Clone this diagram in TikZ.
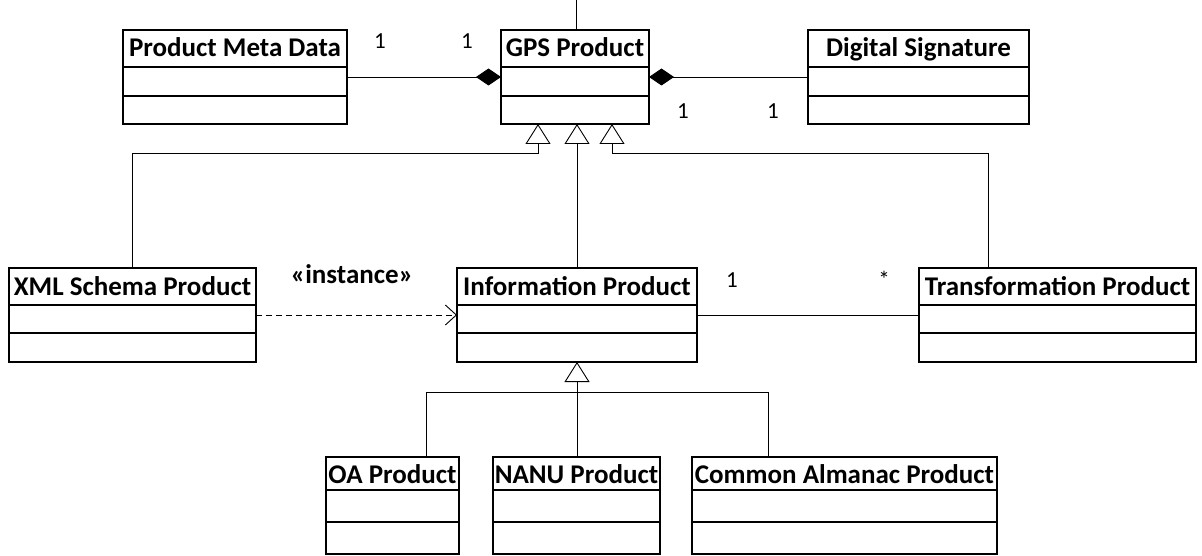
\documentclass[tikz,border=0pt]{standalone}
\usepackage{fontspec}
\setmainfont{Carlito}
\usetikzlibrary{arrows.meta,calc}
\tikzset{
  cls/.style={draw, line width=1.5pt, inner sep=0pt, outer sep=0pt, rectangle},
  sepline/.style={line width=1.5pt},
  conn/.style={line width=0.9pt},
  gen/.style={conn, -{Triangle[open,length=20pt,width=25pt]}},
  comp/.style={conn, {Diamond[length=25pt,width=17pt]}-},
  depend/.style={conn, dash pattern=on 6pt off 4pt, -{Straight Barb[length=11pt,width=20pt]}},
  hdr/.style={font=\fontsize{27}{31}\selectfont\bfseries, anchor=base, inner sep=0pt},
  mult/.style={font=\fontsize{23}{27}\selectfont, anchor=base, inner sep=0pt},
}
% name, x1, y1, x2, y2, h1, h2, baseline offset, title
\newcommand{\umlcls}[9]{%
  \node[cls, minimum width={#4-#2}, minimum height={#5-#3}] (#1) at ({(#2+#4)/2},{(#3+#5)/2}) {};
  \draw[sepline] ($(#1.north west)+(0,#6)$) -- ($(#1.north east)+(0,#6)$);
  \draw[sepline] ($(#1.north west)+(0,#6+#7)$) -- ($(#1.north east)+(0,#6+#7)$);
  \node[hdr] (#1-t) at ($(#1.north)+(0,#8)$) {#9};
}
\begin{document}
\begin{tikzpicture}[x=1pt,y=-1pt]
\useasboundingbox (0,0) rectangle (1202,556);
\umlcls{pmd}{123}{30}{347}{124}{37}{29}{27}{Product Meta Data}
\umlcls{gps}{501}{30}{649}{124}{37}{29}{27}{GPS Product}
\umlcls{ds}{808}{30}{1029}{124}{37}{29}{27}{Digital Signature}
\umlcls{xml}{9}{268}{256}{362}{37}{28}{27}{XML Schema Product}
\umlcls{info}{457}{268}{697}{362}{37}{28}{27}{Information Product}
\umlcls{trans}{919}{268}{1196}{362}{37}{28}{27}{Transformation Product}
\umlcls{oa}{326}{457}{459}{554}{33}{32}{26}{OA Product}
\umlcls{nanu}{493}{457}{660}{554}{33}{32}{26}{NANU Product}
\umlcls{cap}{692}{457}{997}{554}{33}{32}{26}{Common Almanac Product}

% top line
\coordinate (topend) at (576,0);
\draw[conn] (gps.north -| topend) -- (topend);

% compositions
\draw[conn, -{Diamond[length=25pt,width=17pt]}] (pmd.east) -- (gps.west);
\draw[comp] (gps.east) -- (ds.west);

% generalizations to GPS Product
\coordinate (g1) at (538,153);
\coordinate (g3a) at (612,153);
\coordinate (g3b) at (988,153);
\draw[gen] (xml.north) |- (g1) -- (gps.south -| g1);
\draw[gen] (info.north) -- (info.north |- gps.south);
\draw[gen] (trans.north -| g3b) -- (g3b) -- (g3a) -- (gps.south -| g3a);

% dependency and association
\draw[depend] (xml.east) -- (info.west);
\draw[conn] (info.east) -- (trans.west);

% generalizations to Information Product
\coordinate (b1) at (426,392);
\coordinate (bm) at (577,392);
\coordinate (b2) at (768,392);
\draw[gen] (nanu.north -| bm) -- (info.south -| bm);
\draw[conn] (oa.north -| b1) -- (b1) -- (b2) -- (cap.north -| b2);

% labels
\node[mult] (m1) at (380,49) {1};
\node[mult] (m2) at (467,49) {1};
\node[mult] (m3) at (683,119) {1};
\node[mult] (m4) at (773,119) {1};
\node[mult] (m5) at (732,287) {1};
\node[mult] (m6) at (884,287) {*};
\node[hdr] (inst) at (352,283) {«instance»};
\end{tikzpicture}
\end{document}
